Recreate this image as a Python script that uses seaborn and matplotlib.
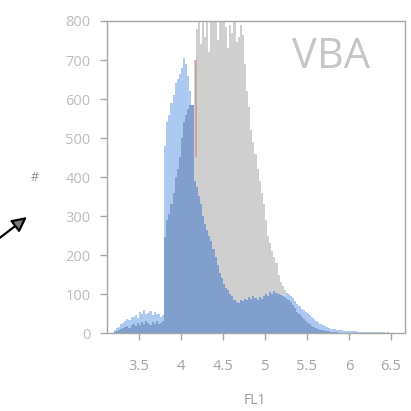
import numpy as np
import pandas as pd
import matplotlib
matplotlib.use("Agg")
import matplotlib.pyplot as plt
import seaborn as sns

# FL1 histogram counts, 0.025-wide bins
bin_width = 0.025

light_start = 3.200
light_counts = [
    8, 12, 15, 22, 25, 30, 35, 33, 42, 40, 45, 38, 55, 48, 58, 50, 52, 57, 45, 55, 48, 50, 40, 45,
    480, 540, 560, 590, 610, 640, 650, 665, 680, 705, 690, 660, 620, 580,
    520, 470, 420, 380, 340, 300, 270, 240, 215, 190, 170, 155, 140, 130, 120,
    115, 112, 108, 110, 105, 112, 108, 110, 115, 108, 112, 110, 115, 112, 118,
    114, 120, 115, 118, 122, 116, 120, 118, 115, 117, 112, 110, 108, 105, 102,
    100, 95, 90, 82, 75, 68, 62, 58, 55, 52, 45, 40, 35, 30, 28, 22, 20, 17, 15, 12, 11, 10,
    9, 8, 7, 7, 6, 6, 5, 5, 4, 4, 4, 3, 3, 3, 3, 3, 2, 3, 2, 2, 2, 2, 2, 2, 1, 2, 1, 1, 1, 1, 1,
]

grey_start = 4.150
grey_counts = [
    700, 780, 810, 740, 800, 760, 820, 720, 810, 800, 830, 750, 810, 800, 820,
    785, 730, 790, 770, 800, 745, 760, 790, 765, 690, 620, 580, 520, 490, 460,
    420, 390, 360, 330, 290, 250, 230, 210, 195, 180, 150, 130, 120, 110,
]

dark_start = 3.200
dark_counts = [
    3, 5, 8, 10, 12, 15, 18, 14, 20, 22, 18, 25, 20, 28, 22, 30, 25, 20, 28, 24, 30, 22, 26, 30,
    245, 290, 305, 330, 360, 400, 420, 450, 500, 540, 560, 575, 585, 585,
    390, 375, 350, 330, 300, 280, 265, 250, 235, 215, 195, 175, 155, 140, 125,
    115, 110, 100, 95, 85, 80, 78, 85, 82, 88, 85, 92, 88, 95, 90, 85, 92, 88,
    95, 100, 95, 105, 100, 108, 102, 100, 98, 95, 92, 88,
    85, 80, 72, 65, 55, 48, 40, 35, 30, 26, 22, 18, 15, 12, 10, 8, 7, 6, 5, 4, 3, 3, 2, 2, 1,
]

# gate marker
gate_x = 4.18
gate_low, gate_high = 450, 700

x_ticks = [3.5, 4, 4.5, 5, 5.5, 6, 6.5]
x_tick_labels = ["3.5", "4", "4.5", "5", "5.5", "6", "6.5"]
y_ticks = [0, 100, 200, 300, 400, 500, 600, 700, 800]
y_tick_labels = ["0", "100", "200", "300", "400", "500", "600", "700", "800"]

sns.set_style("ticks")
plt.rcParams["font.family"] = ["Open Sans", "DejaVu Sans"]

fig = plt.figure(figsize=(4.11, 4.11), dpi=100)
fig.patch.set_facecolor("white")
ax = fig.add_axes([107 / 411, 1 - 333 / 411, 298 / 411, 312 / 411])


def draw_hist(start, counts, color):
    counts = np.asarray(counts, dtype=float)
    n = len(counts)
    centers = start + bin_width * (np.arange(n) + 0.5)
    df = pd.DataFrame({"fl1": centers, "count": counts})
    sns.histplot(data=df, x="fl1", weights="count", binwidth=bin_width,
                 binrange=(start, start + bin_width * n), element="step",
                 fill=True, color=color, alpha=1.0, linewidth=0, ax=ax)


draw_hist(light_start, light_counts, "#abc9f1")
draw_hist(grey_start, grey_counts, "#cfcfd0")
draw_hist(dark_start, dark_counts, "#809fcc")
ax.vlines(gate_x, gate_low, gate_high, color="#cf9894", linewidth=1.1, zorder=5)

ax.set_xlim(3.12, 6.668)
ax.set_ylim(0, 800)
ax.set_xticks(x_ticks)
ax.set_xticklabels(x_tick_labels)
ax.set_yticks(y_ticks)
ax.set_yticklabels(y_tick_labels)

for s in ax.spines.values():
    s.set_color("#a6a6a6")
    s.set_linewidth(1.0)
ax.tick_params(axis="x", length=5, width=1, color="#a6a6a6", pad=14,
               labelsize=10.5, labelcolor="#a3a3a3")
ax.tick_params(axis="y", length=5, width=1, color="#a6a6a6", pad=7,
               labelsize=10.5, labelcolor="#bdbdbd")

ax.set_xlabel("FL1", fontsize=10, color="#9a9a9a", va="center")
ax.xaxis.set_label_coords(0.497, -0.215)
ax.set_ylabel("#", fontsize=9, color="#8f8f8f", rotation=0, va="center", ha="center")
ax.yaxis.set_label_coords(-0.242, 0.5)

ax.text(0.753, 0.885, "VBA", transform=ax.transAxes, fontsize=30,
        color="#c6c6c6", ha="center", va="center")

# pointer arrow on the left margin
ax.annotate("", xy=(27 / 411, 1 - 217 / 411), xytext=(-3 / 411, 1 - 240 / 411),
            xycoords="figure fraction", textcoords="figure fraction",
            arrowprops=dict(arrowstyle="-|>", ec="black", fc="#7a7a7a",
                            lw=1.6, mutation_scale=22, shrinkA=0, shrinkB=0),
            annotation_clip=False)

fig.savefig("out.png", dpi=100, facecolor="white")
